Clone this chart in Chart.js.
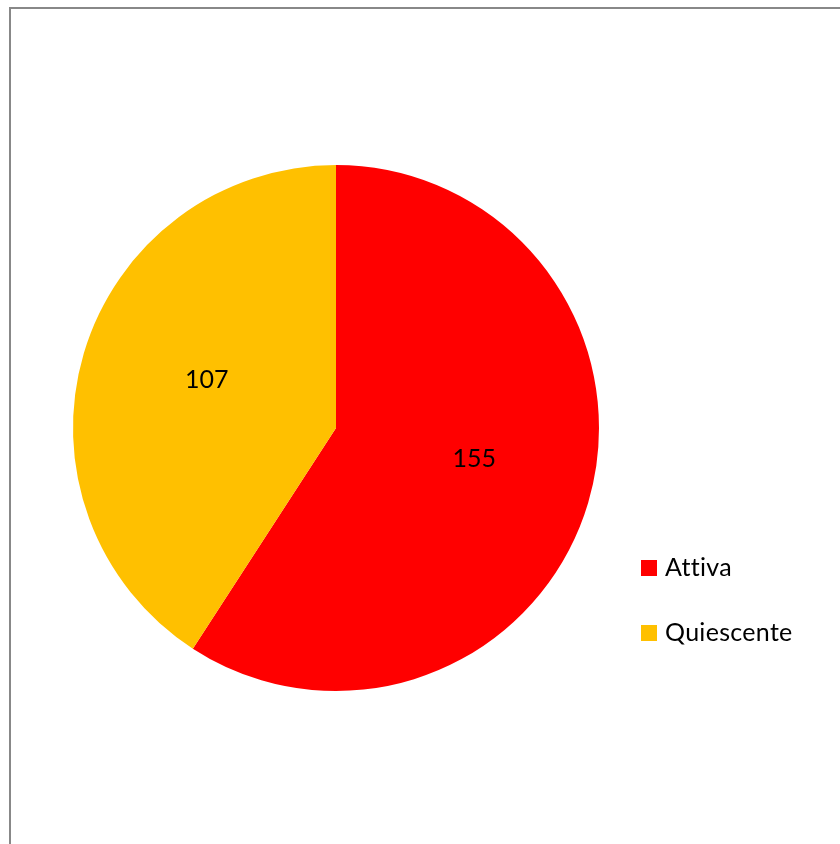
<!DOCTYPE html>
<html>
<head>
<meta charset="utf-8">
<script src="https://cdn.jsdelivr.net/npm/chart.js@4/dist/chart.umd.min.js"></script>
<style>
html,body{margin:0;padding:0;background:#fff;}
#wrap{position:relative;width:840px;height:844px;}
</style>
</head>
<body>
<div id="wrap"><canvas id="c" width="840" height="844"></canvas></div>
<script>
const categories = ["Attiva", "Quiescente"];
const values = [155, 107];
const colors = ["#FF0000", "#FFC000"];

const FONT = "Lato, 'Open Sans', sans-serif";

const framePlugin = {
  id: 'frame',
  beforeDraw(chart) {
    const ctx = chart.ctx;
    ctx.save();
    ctx.fillStyle = '#fff';
    ctx.fillRect(0, 0, chart.width, chart.height);
    ctx.strokeStyle = '#888888';
    ctx.lineWidth = 2;
    ctx.strokeRect(10, 8, 860, 870);
    ctx.restore();
  }
};

const labelPlugin = {
  id: 'sliceLabels',
  afterDatasetsDraw(chart) {
    const ctx = chart.ctx;
    const meta = chart.getDatasetMeta(0);
    ctx.save();
    ctx.fillStyle = '#000';
    ctx.font = '25px ' + FONT;
    ctx.textAlign = 'center';
    ctx.textBaseline = 'middle';
    meta.data.forEach((arc, i) => {
      const mid = (arc.startAngle + arc.endAngle) / 2;
      const r = arc.outerRadius * 0.53;
      const x = arc.x + Math.cos(mid) * r + 4.5;
      const y = arc.y + Math.sin(mid) * r - 8.5;
      ctx.fillText(String(values[i]), x, y);
    });
    ctx.restore();
  }
};

const legendPlugin = {
  id: 'customLegend',
  afterDraw(chart) {
    const ctx = chart.ctx;
    ctx.save();
    ctx.font = '25px ' + FONT;
    if ('letterSpacing' in ctx) ctx.letterSpacing = '0.3px';
    ctx.textBaseline = 'middle';
    ctx.textAlign = 'left';
    categories.forEach((name, i) => {
      const y = 568 + i * 65;
      ctx.fillStyle = colors[i];
      ctx.fillRect(641, y - 8, 16, 16);
      ctx.fillStyle = '#000';
      ctx.fillText(name, 665, y);
    });
    ctx.restore();
  }
};

new Chart(document.getElementById('c'), {
  type: 'pie',
  data: {
    labels: categories,
    datasets: [{
      data: values,
      backgroundColor: colors,
      borderWidth: 0
    }]
  },
  options: {
    responsive: false,
    animation: false,
    layout: { padding: { left: 73, right: 241, top: 165, bottom: 153 } },
    plugins: {
      legend: { display: false },
      tooltip: { enabled: false }
    }
  },
  plugins: [framePlugin, labelPlugin, legendPlugin]
});
</script>
</body>
</html>
